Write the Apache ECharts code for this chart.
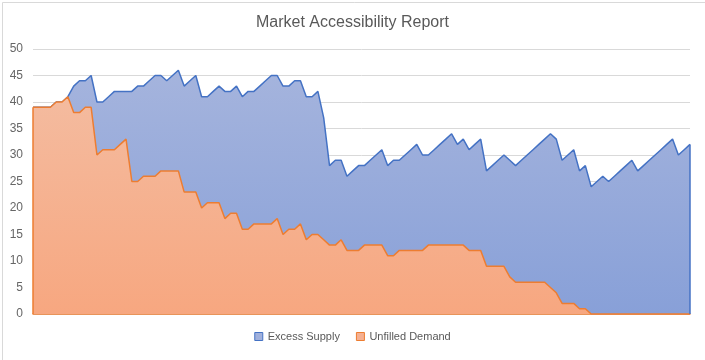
<!DOCTYPE html>
<html>
<head>
<meta charset="utf-8">
<script src="https://cdn.jsdelivr.net/npm/echarts@6/dist/echarts.min.js"></script>
<style>html,body{margin:0;padding:0;background:#fff}#c{width:705px;height:360px}</style>
</head>
<body>
<div id="c"></div>
<script>
const chartTitle = 'Market Accessibility Report';
const seriesNames = ['Excess Supply', 'Unfilled Demand'];
const yTicks = [0, 5, 10, 15, 20, 25, 30, 35, 40, 45, 50];

// top edge of the blue area (supply level)
const excessSupply = [39,39,39,39,40,40,41,43,44,44,45,40,40,41,42,42,42,42,43,43,
  44,45,45,44,45,46,43,44,45,41,41,42,43,42,42,43,41,42,42,43,
  44,45,45,43,43,44,44,41,41,42,37,28,29,29,26,27,28,28,29,30,
  31,28,29,29,30,31,32,30,30,31,32,33,34,32,33,31,32,33,27,28,
  29,30,29,28,29,30,31,32,33,34,33,29,30,31,27,28,24,25,26,25,
  26,27,28,29,27,28,29,30,31,32,33,30,31,32];

const unfilledDemand = [39,39,39,39,40,40,41,38,38,39,39,30,31,31,31,32,33,25,25,26,
  26,26,27,27,27,27,23,23,23,20,21,21,21,18,19,19,16,16,17,17,
  17,17,18,15,16,16,17,14,15,15,14,13,13,14,12,12,12,13,13,13,
  13,11,11,12,12,12,12,12,13,13,13,13,13,13,13,12,12,12,9,9,
  9,9,7,6,6,6,6,6,6,5,4,2,2,2,1,1,0,0,0,0,
  0,0,0,0,0,0,0,0,0,0,0,0,0,0];

const categories = excessSupply.map((_, i) => String(i + 1));
const lastIdx = categories.length - 1;

const chart = echarts.init(document.getElementById('c'), null, {renderer: 'canvas'});
chart.setOption({
  animation: false,
  backgroundColor: '#ffffff',
  graphic: [{
    type: 'rect', left: 0, top: 0, z: -10,
    shape: {width: 704, height: 359},
    style: {fill: 'none', stroke: '#d9d9d9', lineWidth: 1}
  }],
  title: {
    text: chartTitle, left: 'center', top: 10,
    textStyle: {fontFamily: 'Liberation Sans, Arial', fontSize: 16, fontWeight: 'normal', color: '#595959'}
  },
  legend: {
    bottom: 13, left: 'center', icon: 'rect', itemWidth: 8, itemHeight: 8, itemGap: 16,
    textStyle: {fontFamily: 'Liberation Sans, Arial', fontSize: 11, color: '#595959'},
    data: [
      {name: seriesNames[0], itemStyle: {color: '#a0b0dc', borderColor: '#4472c4', borderWidth: 1}},
      {name: seriesNames[1], itemStyle: {color: '#f5b092', borderColor: '#ed7d31', borderWidth: 1}}
    ]
  },
  grid: {left: 33, right: 15, top: 49, bottom: 46},
  xAxis: {
    type: 'category', data: categories, boundaryGap: false,
    axisLine: {show: true, lineStyle: {color: '#ed7d31', width: 1.5}},
    axisTick: {show: false}, axisLabel: {show: false}, splitLine: {show: false}
  },
  yAxis: {
    type: 'value', min: yTicks[0], max: yTicks[yTicks.length - 1], interval: 5,
    axisLine: {show: false}, axisTick: {show: false},
    axisLabel: {color: '#666666', fontFamily: 'Liberation Sans, Arial', fontSize: 12, margin: 10},
    splitLine: {lineStyle: {color: '#d9d9d9', width: 1}}
  },
  series: [
    {
      name: seriesNames[0], type: 'line', data: excessSupply, symbol: 'none', z: 2,
      lineStyle: {color: '#4472c4', width: 1.5},
      itemStyle: {color: '#4472c4'},
      areaStyle: {opacity: 1, color: new echarts.graphic.LinearGradient(0, 0, 0, 1, [
        {offset: 0, color: '#a5b4dd'}, {offset: 1, color: '#88a0d8'}])},
      markLine: {
        silent: true, symbol: 'none', label: {show: false},
        lineStyle: {color: '#4472c4', width: 1.5, type: 'solid'},
        data: [[{coord: [lastIdx, 0]}, {coord: [lastIdx, excessSupply[lastIdx]]}]]
      }
    },
    {
      name: seriesNames[1], type: 'line', data: unfilledDemand, symbol: 'none', z: 3,
      lineStyle: {color: '#ed7d31', width: 1.5},
      itemStyle: {color: '#ed7d31'},
      areaStyle: {opacity: 1, color: new echarts.graphic.LinearGradient(0, 0, 0, 1, [
        {offset: 0, color: '#f4bb9f'}, {offset: 1, color: '#f7a780'}])},
      markLine: {
        silent: true, symbol: 'none', label: {show: false},
        lineStyle: {color: '#ed7d31', width: 1.5, type: 'solid'},
        data: [[{coord: [0, 0]}, {coord: [0, unfilledDemand[0]]}]]
      }
    }
  ]
});
</script>
</body>
</html>
